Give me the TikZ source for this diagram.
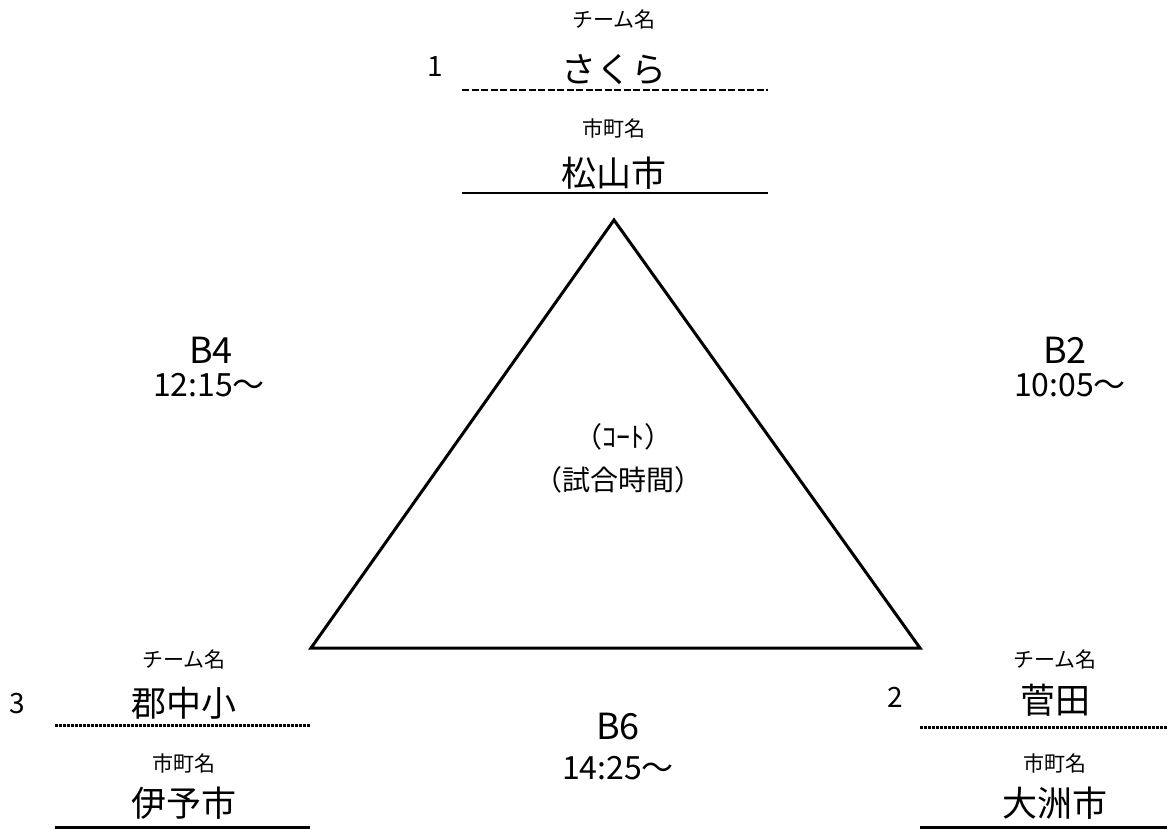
\documentclass[tikz,border=0pt]{standalone}
\usepackage{fontspec}
\setmainfont{Noto Sans CJK JP}
\begin{document}
\begin{tikzpicture}[x=1pt,y=-1pt,
  lbl/.style={inner sep=0pt,anchor=center},
  small/.style={lbl,font=\fontsize{21}{24}\selectfont},
  big/.style={lbl,font=\fontsize{35}{38}\selectfont},
  court/.style={lbl,font=\fontsize{36}{40}\selectfont},
  tm/.style={lbl,font=\fontsize{32}{36}\selectfont},
  mid/.style={lbl,font=\fontsize{28}{32}\selectfont},
  num/.style={lbl,font=\fontsize{28}{32}\selectfont},
  dashline/.style={line width=2.5pt,dash pattern=on 7pt off 2.5pt},
  dotline/.style={line width=3pt,dash pattern=on 2.5pt off 1.5pt},
  solidline/.style={line width=2.5pt},
  tri/.style={line width=3pt,line join=miter}]
\useasboundingbox (0,0) rectangle (1167,829);
% triangle
\coordinate (A) at (614,220);
\coordinate (L) at (311,648);
\coordinate (R) at (920,648);
\draw[tri] (A) -- (L) -- (R) -- cycle;
% top team
\node[small] (t1) at (614,20) {チーム名};
\node[num] (n1) at (435,67) {1};
\node[big] (team1) at (614,70) {さくら};
\coordinate (d1a) at (462,90); \coordinate (d1b) at (768,90);
\draw[dashline] (d1a) -- (d1b);
\node[small] (c1) at (614,128) {市町名};
\node[big] (city1) at (614,173) {松山市};
\coordinate (s1a) at (462,193); \coordinate (s1b) at (768,193);
\draw[solidline] (s1a) -- (s1b);
% bottom left team
\node[small] (t3) at (184,660) {チーム名};
\node[num] (n3) at (17,704) {3};
\node[big] (team3) at (184,703) {郡中小};
\coordinate (d3a) at (55,725); \coordinate (d3b) at (310,725);
\draw[dotline] (d3a) -- (d3b);
\node[small] (c3) at (184,763) {市町名};
\node[big] (city3) at (184,803) {伊予市};
\coordinate (s3a) at (55,827.5); \coordinate (s3b) at (310,827.5);
\draw[solidline] (s3a) -- (s3b);
% bottom right team
\node[small] (t2) at (1055,660) {チーム名};
\node[num] (n2) at (895,697) {2};
\node[big] (team2) at (1055,700) {菅田};
\coordinate (d2a) at (920,727); \coordinate (d2b) at (1167,727);
\draw[dotline] (d2a) -- (d2b);
\node[small] (c2) at (1055,763) {市町名};
\node[big] (city2) at (1055,803) {大洲市};
\coordinate (s2a) at (920,827.5); \coordinate (s2b) at (1167,827.5);
\draw[solidline] (s2a) -- (s2b);
% courts
\node[court] (b4) at (211,350) {B4};
\node[tm] (tm4) at (209,385) {12:15～};
\node[court] (b2) at (1065,350) {B2};
\node[tm] (tm2) at (1070,385) {10:05～};
\node[court] (b6) at (618,727) {B6};
\node[tm] (tm6) at (618,768) {14:25～};
% center
\node[mid] (ct) at (623,437) {（ｺｰﾄ）};
\node[mid] (gt) at (618,480) {（試合時間）};
\end{tikzpicture}
\end{document}
